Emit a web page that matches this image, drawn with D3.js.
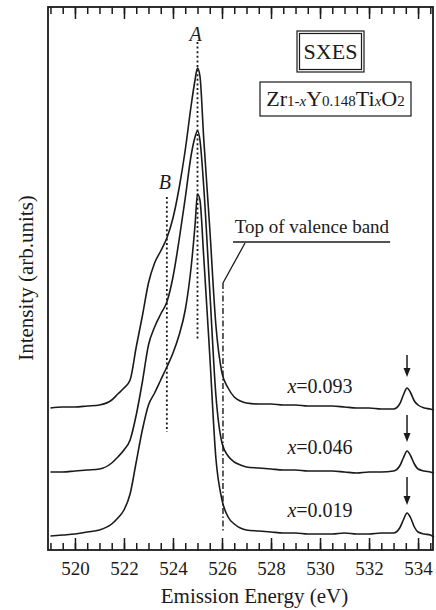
<!DOCTYPE html>
<html>
<head>
<meta charset="utf-8">
<script src="https://cdnjs.cloudflare.com/ajax/libs/d3/7.8.5/d3.min.js"></script>
<style>
body { margin: 0; background: #fff; }
svg text { font-family: "Liberation Serif", "Times New Roman", serif; fill: #1a1a1a; }
</style>
</head>
<body>
<div id="chart"></div>
<script>
// Emission energy grid (eV), shared by the three spectra
var energy = [519.0, 519.5, 520.0, 520.5, 521.0, 521.5, 521.75, 522.0, 522.25, 522.5,
    522.75, 523.0, 523.25, 523.5, 523.75, 524.0, 524.25, 524.5, 524.75, 524.9,
    525.0, 525.1, 525.25, 525.5, 525.75, 526.0, 526.25, 526.5, 526.75, 527.0,
    527.5, 528.0, 528.5, 529.0, 529.5, 530.0, 530.5, 531.0, 531.5, 532.0,
    532.5, 533.0, 533.25, 533.4, 533.55, 533.7, 533.85, 534.0, 534.25, 534.5, 534.65];

// Intensities (arb. units), already shifted vertically as plotted
var intensity093 = [142, 143, 143, 144, 145, 150, 156, 162, 170, 203,
    234, 267, 287, 299, 312, 332, 362, 400, 446, 470,
    482, 474, 413, 322, 225, 177, 162, 153, 149, 147,
    146, 146, 145, 145, 144, 144, 144, 143, 142, 142,
    141, 141, 146, 155, 162, 157, 149, 145, 142, 141, 140];

var intensity046 = [78, 78, 79, 80, 81, 87, 93, 100, 110, 135,
    168, 205, 223, 236, 248, 273, 310, 352, 396, 413,
    419, 410, 365, 260, 155, 107, 94, 88, 85, 83,
    82, 81, 80, 80, 79, 79, 79, 78, 77, 78,
    78, 79, 84, 92, 99, 94, 86, 81, 79, 78, 77];

var intensity019 = [14, 15, 16, 18, 20, 26, 32, 40, 56, 88,
    120, 145, 157, 170, 183, 197, 215, 240, 285, 325,
    356, 350, 295, 195, 92, 50, 33, 26, 22, 20,
    19, 18, 17, 17, 16, 16, 16, 17, 16, 16,
    17, 17, 22, 30, 37, 32, 23, 18, 16, 15, 13];

var compositions = ["0.093", "0.046", "0.019"];
var labelLevels = [157, 96, 33];          // baseline of each x= label
var arrowTops = [195, 135, 73];
var arrowTips = [173, 108, 45];
var arrowEnergy = 533.55;

var tickLabels = [520, 522, 524, 526, 528, 530, 532, 534];
var minorTicks = d3.range(519, 534.51, 0.5);

// peak A, shoulder B and top of the valence band
var peakA = { energy: 525.0, top: 508, bottom: 210, labelEnergy: 524.92, labelLevel: 509 };
var shoulderB = { energy: 523.75, top: 353, bottom: 118, labelEnergy: 523.67, labelLevel: 361 };
var valenceTop = { energy: 526.04, top: 267, bottom: 18 };

var width = 436;
var height = 610;
var plotLeft = 48, plotRight = 433, plotTop = 7, plotBottom = 550;

var svg = d3.select('#chart')
    .append('svg')
    .attr('width', width)
    .attr('height', height);

var x = d3.scaleLinear()
    .domain([518.9, 534.61])
    .range([plotLeft, plotRight]);

var y = d3.scaleLinear()
    .domain([0, 543])
    .range([plotBottom, plotTop]);

// ticks on bottom and top, pointing inside
function tickAxis(axisFn, ypos, labels) {
    var minor = axisFn(x).tickValues(minorTicks).tickSize(-7).tickFormat('');
    var major = axisFn(x).tickValues(tickLabels).tickSize(-12).tickPadding(12)
        .tickFormat(labels ? d3.format('d') : '');
    [minor, major].forEach(function (ax) {
        var g = svg.append('g')
            .attr('transform', 'translate(0,' + ypos + ')')
            .call(ax);
        g.select('.domain').remove();
        g.selectAll('line').attr('stroke', '#1a1a1a').attr('stroke-width', 1.5);
        g.selectAll('text')
            .style('font-family', '"Liberation Serif", serif')
            .style('font-size', '19px')
            .attr('fill', '#1a1a1a');
    });
}
tickAxis(d3.axisBottom, plotBottom, true);
tickAxis(d3.axisTop, plotTop, false);

svg.append('rect')
    .attr('x', plotLeft)
    .attr('y', plotTop)
    .attr('width', plotRight - plotLeft)
    .attr('height', plotBottom - plotTop)
    .attr('fill', 'none')
    .attr('stroke', '#1a1a1a')
    .attr('stroke-width', 1.8);

// spectra
var line = d3.line()
    .x(function (d, i) { return x(energy[i]); })
    .y(function (d) { return y(d); })
    .curve(d3.curveMonotoneX);

[intensity093, intensity046, intensity019].forEach(function (s) {
    svg.append('path')
        .datum(s)
        .attr('d', line)
        .attr('fill', 'none')
        .attr('stroke', '#1a1a1a')
        .attr('stroke-width', 1.6);
});

// dotted guide lines for A and B
[peakA, shoulderB].forEach(function (m) {
    svg.append('line')
        .attr('x1', x(m.energy)).attr('x2', x(m.energy))
        .attr('y1', y(m.top)).attr('y2', y(m.bottom))
        .attr('stroke', '#1a1a1a')
        .attr('stroke-width', 1.8)
        .attr('stroke-dasharray', '2,2.6');
});
svg.append('text')
    .attr('x', x(peakA.labelEnergy)).attr('y', y(peakA.labelLevel))
    .attr('text-anchor', 'middle')
    .style('font-size', '20px').style('font-style', 'italic')
    .text('A');
svg.append('text')
    .attr('x', x(shoulderB.labelEnergy)).attr('y', y(shoulderB.labelLevel))
    .attr('text-anchor', 'middle')
    .style('font-size', '20px').style('font-style', 'italic')
    .text('B');

// top of valence band: dash-dot line with leader
svg.append('line')
    .attr('x1', x(valenceTop.energy)).attr('x2', x(valenceTop.energy))
    .attr('y1', y(valenceTop.top)).attr('y2', y(valenceTop.bottom))
    .attr('stroke', '#1a1a1a')
    .attr('stroke-width', 1.4)
    .attr('stroke-dasharray', '6,2.5,1.5,2.5');
svg.append('line')
    .attr('x1', x(valenceTop.energy)).attr('y1', y(valenceTop.top))
    .attr('x2', x(526.94)).attr('y2', y(307))
    .attr('stroke', '#1a1a1a').attr('stroke-width', 1.3);
svg.append('line')
    .attr('x1', x(526.45)).attr('x2', x(532.86))
    .attr('y1', y(308)).attr('y2', y(308))
    .attr('stroke', '#1a1a1a').attr('stroke-width', 1.3);
svg.append('text')
    .attr('x', x(529.67)).attr('y', y(317))
    .attr('text-anchor', 'middle')
    .style('font-size', '19px')
    .text('Top of valence band');

// composition labels and arrows on the 533.5 eV peak
compositions.forEach(function (c, i) {
    var t = svg.append('text')
        .attr('x', x(530.0)).attr('y', y(labelLevels[i]))
        .attr('text-anchor', 'middle')
        .style('font-size', '20px');
    t.append('tspan').style('font-style', 'italic').text('x');
    t.append('tspan').text('=' + c);

    var ax = x(arrowEnergy);
    var tip = y(arrowTips[i]);
    svg.append('line')
        .attr('x1', ax).attr('x2', ax)
        .attr('y1', y(arrowTops[i])).attr('y2', tip - 6)
        .attr('stroke', '#1a1a1a').attr('stroke-width', 1.5);
    svg.append('path')
        .attr('d', 'M' + (ax - 3.5) + ',' + (tip - 9) + 'L' + (ax + 3.5) + ',' + (tip - 9) + 'L' + ax + ',' + tip + 'Z')
        .attr('fill', '#1a1a1a');
});

// SXES double box
svg.append('rect').attr('x', 297).attr('y', 31).attr('width', 67).attr('height', 41)
    .attr('fill', 'none').attr('stroke', '#1a1a1a').attr('stroke-width', 1.2);
svg.append('rect').attr('x', 299.5).attr('y', 33.5).attr('width', 62).attr('height', 36)
    .attr('fill', 'none').attr('stroke', '#1a1a1a').attr('stroke-width', 1.2);
svg.append('text')
    .attr('x', 330.5).attr('y', 58.5)
    .attr('text-anchor', 'middle')
    .style('font-size', '22px')
    .text('SXES');

// formula box
svg.append('rect').attr('x', 260).attr('y', 82).attr('width', 151).attr('height', 34)
    .attr('fill', 'none').attr('stroke', '#1a1a1a').attr('stroke-width', 1.2);
var f = svg.append('text')
    .attr('x', 335.5).attr('y', 106)
    .attr('text-anchor', 'middle');
[['Zr', 22, false], ['1-', 15, false], ['x', 15, true], ['Y', 22, false], ['0.148', 15, false],
 ['Ti', 22, false], ['x', 15, true], ['O', 22, false], ['2', 15, false]].forEach(function (p) {
    f.append('tspan')
        .style('font-size', p[1] + 'px')
        .style('font-style', p[2] ? 'italic' : 'normal')
        .text(p[0]);
});

// axis titles
svg.append('text')
    .attr('x', (plotLeft + plotRight) / 2 + 14).attr('y', 603)
    .attr('text-anchor', 'middle')
    .style('font-size', '21px')
    .text('Emission Energy (eV)');
svg.append('text')
    .attr('transform', 'translate(33,278) rotate(-90)')
    .attr('text-anchor', 'middle')
    .style('font-size', '21px')
    .text('Intensity (arb.units)');
</script>
</body>
</html>
